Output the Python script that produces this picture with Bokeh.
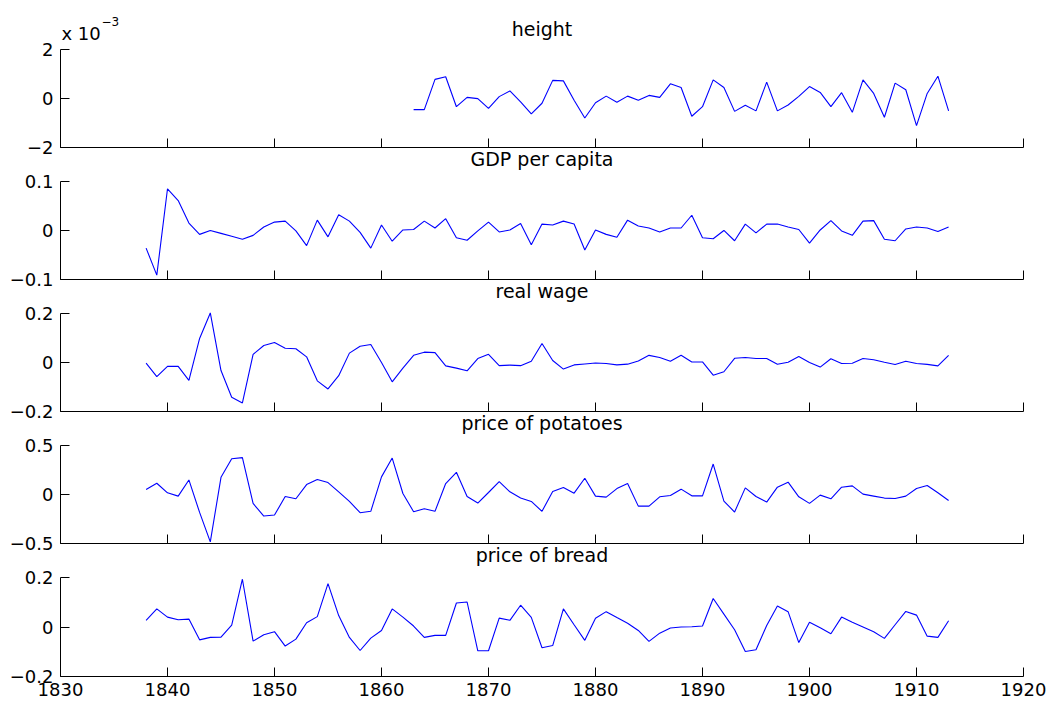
from bokeh.plotting import figure
from bokeh.layouts import column
from bokeh.models import FixedTicker, Range1d, Title
from bokeh.core.properties import value
from bokeh.embed import file_html
from bokeh.resources import INLINE

# ---------------- data ----------------
years = list(range(1838, 1914))
years_height = list(range(1863, 1914))

# height, in units of 1e-3
height_e3 = [-0.46, -0.46, 0.77, 0.88, -0.34, 0.04, -0.01, -0.41,
             0.07, 0.30, -0.14, -0.63, -0.20, 0.73, 0.71, -0.08, -0.80, -0.18,
             0.09, -0.16, 0.09, -0.08, 0.12, 0.04, 0.59, 0.44, -0.73, -0.34,
             0.75, 0.44, -0.53, -0.28, -0.51, 0.66, -0.51, -0.27, 0.08, 0.48,
             0.24, -0.34, 0.23, -0.57, 0.75, 0.20, -0.77, 0.62, 0.35, -1.11,
             0.20, 0.90, -0.51]

gdp = [-0.036, -0.091, 0.085, 0.061, 0.015, -0.008, 0.000, -0.006, -0.012, -0.018,
       -0.010, 0.007, 0.017, 0.019, -0.001, -0.031, 0.021, -0.013, 0.032, 0.019,
       -0.004, -0.036, 0.011, -0.022, 0.001, 0.002, 0.019, 0.005, 0.024, -0.015,
       -0.020, -0.001, 0.017, -0.003, 0.001, 0.014, -0.029, 0.013, 0.011, 0.019,
       0.013, -0.040, 0.001, -0.008, -0.014, 0.021, 0.009, 0.005, -0.003, 0.005,
       0.005, 0.031, -0.015, -0.017, 0.000, -0.021, 0.013, -0.005, 0.013, 0.013,
       0.007, 0.002, -0.026, 0.001, 0.020, -0.001, -0.010, 0.019, 0.020, -0.018,
       -0.021, 0.003, 0.007, 0.005, -0.002, 0.007]

real_wage = [-0.003, -0.058, -0.016, -0.016, -0.073, 0.098, 0.202, -0.033, -0.142, -0.165,
             0.033, 0.069, 0.081, 0.058, 0.056, 0.023, -0.075, -0.108, -0.054, 0.038,
             0.066, 0.073, 0.000, -0.079, -0.023, 0.029, 0.042, 0.040, -0.014, -0.023,
             -0.034, 0.016, 0.033, -0.013, -0.011, -0.013, 0.005, 0.077, 0.008, -0.027,
             -0.010, -0.006, -0.002, -0.004, -0.010, -0.007, 0.006, 0.029, 0.020, 0.005,
             0.029, 0.002, 0.002, -0.052, -0.038, 0.017, 0.020, 0.016, 0.016, -0.007,
             0.001, 0.024, 0.000, -0.019, 0.015, -0.004, -0.003, 0.016, 0.011, 0.001,
             -0.008, 0.005, -0.004, -0.008, -0.014, 0.029]

potatoes = [0.050, 0.114, 0.017, -0.017, 0.148, -0.183, -0.483, 0.175, 0.364, 0.375,
            -0.092, -0.220, -0.210, -0.021, -0.044, 0.101, 0.152, 0.121, 0.027, -0.071,
            -0.186, -0.172, 0.179, 0.371, 0.010, -0.176, -0.146, -0.172, 0.111, 0.226,
            -0.021, -0.088, 0.020, 0.131, 0.027, -0.037, -0.071, -0.172, 0.031, 0.071,
            0.013, 0.165, -0.017, -0.027, 0.060, 0.111, -0.119, -0.119, -0.024, -0.010,
            0.054, -0.014, -0.014, 0.310, -0.068, -0.179, 0.067, -0.021, -0.078, 0.074,
            0.125, -0.024, -0.091, -0.007, -0.044, 0.074, 0.087, 0.003, -0.017, -0.037,
            -0.041, -0.017, 0.060, 0.091, 0.017, -0.061]

bread = [0.027, 0.073, 0.040, 0.029, 0.032, -0.052, -0.042, -0.041, 0.008, 0.193,
         -0.057, -0.031, -0.019, -0.077, -0.049, 0.017, 0.042, 0.175, 0.046, -0.042,
         -0.095, -0.045, -0.014, 0.073, 0.040, 0.004, -0.042, -0.034, -0.034, 0.097,
         0.101, -0.096, -0.096, 0.036, 0.027, 0.088, 0.039, -0.084, -0.075, 0.073,
         0.009, -0.054, 0.035, 0.062, 0.038, 0.015, -0.014, -0.058, -0.025, -0.004,
         0.000, 0.001, 0.004, 0.115, 0.052, -0.011, -0.099, -0.092, 0.006, 0.085,
         0.062, -0.063, 0.019, -0.003, -0.027, 0.040, 0.019, 0.000, -0.019, -0.046,
         0.009, 0.063, 0.048, -0.037, -0.042, 0.025]

titles = ["height", "GDP per capita", "real wage", "price of potatoes", "price of bread"]
x_ticks = [1830, 1840, 1850, 1860, 1870, 1880, 1890, 1900, 1910, 1920]
x_lim = (1830, 1920)
y_lims = [(-2, 2), (-0.1, 0.1), (-0.2, 0.2), (-0.5, 0.5), (-0.2, 0.2)]
y_ticks = [[-2, 0, 2], [-0.1, 0, 0.1], [-0.2, 0, 0.2], [-0.5, 0, 0.5], [-0.2, 0, 0.2]]
y_tick_labels = [["\u22122", "0", "2"], ["\u22120.1", "0", "0.1"], ["\u22120.2", "0", "0.2"],
                 ["\u22120.5", "0", "0.5"], ["\u22120.2", "0", "0.2"]]
exponent_base = "x 10"
exponent_power = "\u22123"

series_x = [years_height, years, years, years, years]
series_y = [height_e3, gdp, real_wage, potatoes, bread]

# ---------------- styling ----------------
FONT = "DejaVu Sans"
FS = "18px"
FS_TITLE = "19px"
W = 1048
FRAME_H = 99              # height of one panel's data area
LEFT, RIGHT = 60, 25
EXT_FIRST, EXT = 49, 10   # room above each panel's data area (inside the frame)
GAP_BELOW, BOTTOM_LAST = 23, 27

panels = []
n = len(titles)
x_mid = (x_lim[0] + x_lim[1]) / 2
for i in range(n):
    ymin, ymax = y_lims[i]
    ext = EXT_FIRST if i == 0 else EXT
    bottom = BOTTOM_LAST if i == n - 1 else GAP_BELOW
    y_end = ymax + ext * (ymax - ymin) / FRAME_H
    p = figure(width=W, height=FRAME_H + ext + bottom,
               x_range=Range1d(*x_lim), y_range=Range1d(ymin, y_end),
               output_backend="svg", toolbar_location=None,
               min_border_left=LEFT, min_border_right=RIGHT,
               min_border_top=0, min_border_bottom=bottom)
    p.outline_line_color = None
    p.background_fill_color = "white"
    p.border_fill_color = "white"
    p.xgrid.visible = False
    p.ygrid.visible = False

    p.line(series_x[i], series_y[i], line_color="#0000ff", line_width=1.1)

    for ax in (p.xaxis[0], p.yaxis[0]):
        ax.axis_line_color = "black"
        ax.axis_line_width = 1
        ax.major_tick_line_color = "black"
        ax.major_tick_in = 9
        ax.major_tick_out = 0
        ax.minor_tick_in = 0
        ax.minor_tick_out = 0
        ax.minor_tick_line_color = None
        ax.major_label_text_font = FONT
        ax.major_label_text_font_size = FS
        ax.major_label_text_color = "black"

    p.xaxis.ticker = FixedTicker(ticks=x_ticks)
    if i == n - 1:
        p.xaxis.major_label_standoff = 6
    else:
        p.xaxis.major_label_text_font_size = "0px"
        p.xaxis.major_label_standoff = 0
        p.xaxis.major_label_overrides = {t: "" for t in x_ticks}
        # the heading of the next panel sits in the gap under this one
        p.add_layout(Title(text=titles[i + 1], align="center", vertical_align="top",
                           standoff=0, text_font=FONT, text_font_size=FS_TITLE,
                           text_font_style="normal", text_color="black"), "below")

    p.yaxis.ticker = FixedTicker(ticks=y_ticks[i])
    p.yaxis.bounds = (ymin, ymax)
    p.yaxis.major_label_overrides = dict(zip(y_ticks[i], y_tick_labels[i]))
    p.yaxis.major_label_standoff = 7

    if i == 0:
        p.text(x=[x_mid], y=[ymax], text=[titles[0]], text_align="center",
               text_baseline="alphabetic", y_offset=-20,
               text_font=value(FONT), text_font_size=value(FS_TITLE), text_color="black")
        p.text(x=[x_lim[0]], y=[ymax], text=[exponent_base], text_align="left",
               text_baseline="alphabetic", x_offset=1, y_offset=-16,
               text_font=value(FONT), text_font_size=value(FS), text_color="black")
        p.text(x=[x_lim[0]], y=[ymax], text=[exponent_power], text_align="left",
               text_baseline="alphabetic", x_offset=41, y_offset=-28,
               text_font=value(FONT), text_font_size=value("12px"), text_color="black")
    panels.append(p)

layout = column(*panels, spacing=0)
open("out.html", "w").write(file_html(layout, INLINE))
